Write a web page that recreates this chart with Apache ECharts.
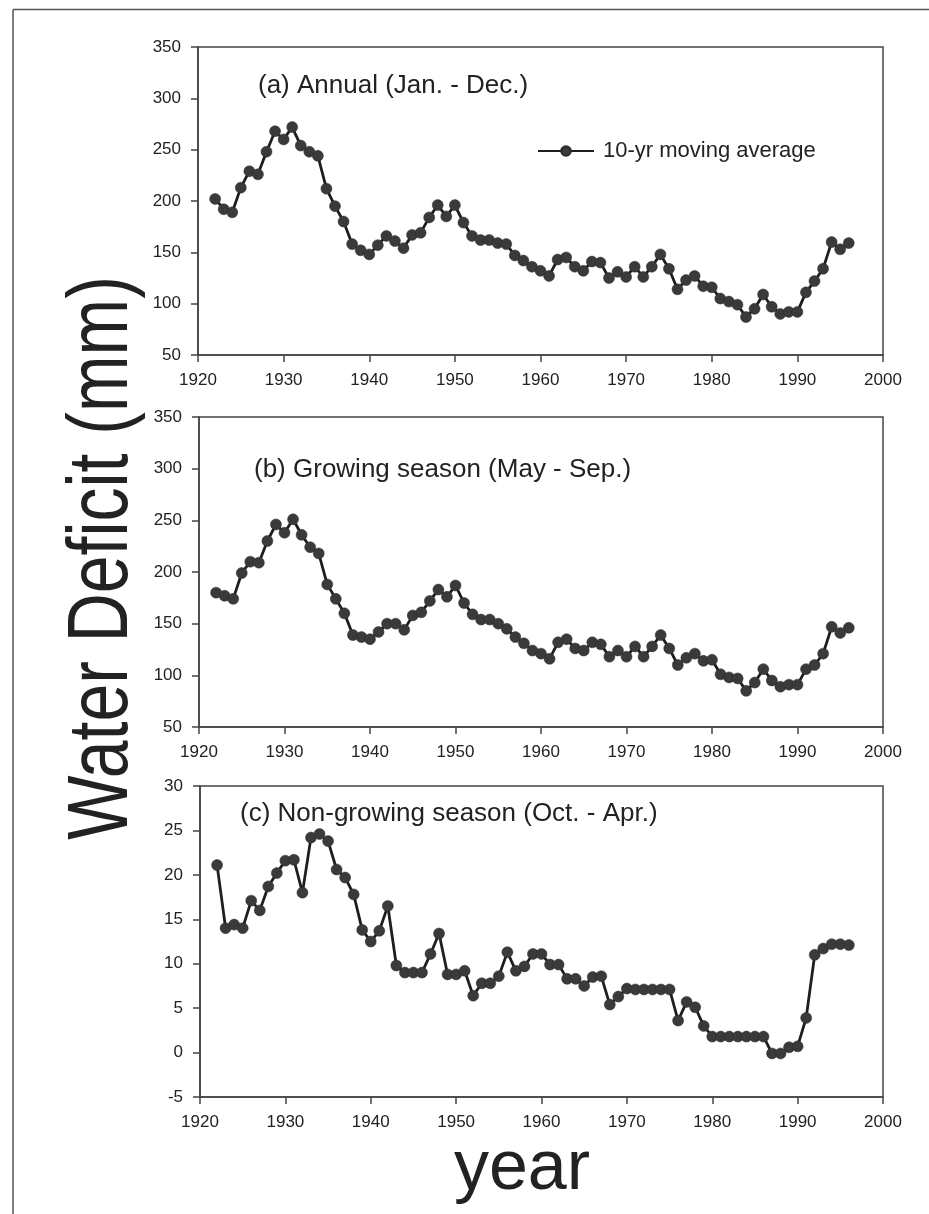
<!DOCTYPE html>
<html><head><meta charset="utf-8">
<script src="https://cdn.jsdelivr.net/npm/echarts@6/dist/echarts.min.js"></script>
<style>html,body{margin:0;padding:0;background:#fff;}#c{width:929px;height:1214px;}</style>
</head><body><div id="c"></div>
<script>
const years = [1922,1923,1924,1925,1926,1927,1928,1929,1930,1931,1932,1933,1934,1935,1936,1937,1938,1939,1940,1941,1942,1943,1944,1945,1946,1947,1948,1949,1950,1951,1952,1953,1954,1955,1956,1957,1958,1959,1960,1961,1962,1963,1964,1965,1966,1967,1968,1969,1970,1971,1972,1973,1974,1975,1976,1977,1978,1979,1980,1981,1982,1983,1984,1985,1986,1987,1988,1989,1990,1991,1992,1993,1994,1995,1996];
const annual = [202,192,189,213,229,226,248,268,260,272,254,248,244,212,195,180,158,152,148,157,166,161,154,167,169,184,196,185,196,179,166,162,162,159,158,147,142,136,132,127,143,145,136,132,141,140,125,131,126,136,126,136,148,134,114,123,127,117,116,105,102,99,87,95,109,97,90,92,92,111,122,134,160,153,159];
const growing = [180,177,174,199,210,209,230,246,238,251,236,224,218,188,174,160,139,137,135,142,150,150,144,158,161,172,183,176,187,170,159,154,154,150,145,137,131,124,121,116,132,135,126,124,132,130,118,124,118,128,118,128,139,126,110,117,121,114,115,101,98,97,85,93,106,95,89,91,91,106,110,121,147,141,146];
const nongrowing = [21.1,14.0,14.4,14.0,17.1,16.0,18.7,20.2,21.6,21.7,18.0,24.2,24.6,23.8,20.6,19.7,17.8,13.8,12.5,13.7,16.5,9.8,9.0,9.0,9.0,11.1,13.4,8.8,8.8,9.2,6.4,7.8,7.8,8.6,11.3,9.2,9.7,11.1,11.1,9.9,9.9,8.3,8.3,7.5,8.5,8.6,5.4,6.3,7.2,7.1,7.1,7.1,7.1,7.1,3.6,5.7,5.1,3.0,1.8,1.8,1.8,1.8,1.8,1.8,1.8,-0.1,-0.1,0.6,0.7,3.9,11.0,11.7,12.2,12.2,12.1];
const panelTitles = ['(a) Annual (Jan. - Dec.)','(b) Growing season (May - Sep.)','(c) Non-growing season (Oct. - Apr.)'];
const yRanges = [[50,350,50],[50,350,50],[-5,30,5]];
const xRange = [1920,2000,10];
const legendName = '10-yr moving average';
const yTitle = 'Water Deficit (mm)';
const xTitle = 'year';

const FONT = '"Liberation Sans", Arial, sans-serif';
const INK = '#222';
const grids = [
  {left:198, top:47, width:685, height:308},
  {left:199, top:417, width:684, height:310},
  {left:200, top:786, width:683, height:311}
];
const titlePos = [[258,73],[254,457],[240,801]];
const seriesData = [annual, growing, nongrowing];
const seriesNames = [legendName, 'growing', 'nongrowing'];

const chart = echarts.init(document.getElementById('c'), null, {renderer:'canvas'});
const option = {
  backgroundColor:'#fff',
  animation:false,
  title: panelTitles.map((t,i)=>({text:t, left:titlePos[i][0], top:titlePos[i][1], padding:0,
    textStyle:{fontFamily:FONT, fontSize:26, fontWeight:'normal', color:INK}})),
  legend:{data:[legendName], left:537, top:140, itemWidth:56, itemHeight:12, padding:0, itemGap:12,
    textStyle:{fontFamily:FONT, fontSize:22, color:INK, padding:[0,0,0,4]}},
  grid: grids.map(g=>Object.assign({show:true, borderColor:'#444', borderWidth:1.5, backgroundColor:'transparent'}, g)),
  xAxis: grids.map((g,i)=>({type:'value', gridIndex:i, min:xRange[0], max:xRange[1], interval:xRange[2],
    axisLine:{show:true, onZero:false, lineStyle:{color:'#444', width:1.5}},
    axisTick:{show:true, inside:false, length:7, lineStyle:{color:'#444', width:1.5}},
    splitLine:{show:false},
    axisLabel:{fontFamily:FONT, fontSize:17, color:INK, margin:17, formatter:v=>String(v)}})),
  yAxis: grids.map((g,i)=>({type:'value', gridIndex:i, min:yRanges[i][0], max:yRanges[i][1], interval:yRanges[i][2],
    axisLine:{show:true, onZero:false, lineStyle:{color:'#444', width:1.5}},
    axisTick:{show:true, inside:false, length:7, lineStyle:{color:'#444', width:1.5}},
    splitLine:{show:false},
    axisLabel:{fontFamily:FONT, fontSize:17, color:INK, margin:17}})),
  series: seriesData.map((d,i)=>({type:'line', name:seriesNames[i], xAxisIndex:i, yAxisIndex:i,
    data: years.map((y,k)=>[y,d[k]]),
    symbol:'circle', symbolSize:11, showAllSymbol:true,
    lineStyle:{color:'#1e1e1e', width:2.8},
    itemStyle:{color:'#3a3a3a', borderColor:'#2a2a2a', borderWidth:0.5}})),
  graphic:[
    {type:'line', shape:{x1:13, y1:9.5, x2:929, y2:9.5}, style:{stroke:'#555', lineWidth:1.5}},
    {type:'line', shape:{x1:13, y1:9.5, x2:13, y2:1214}, style:{stroke:'#555', lineWidth:1.5}},
    {type:'text', x:103, y:558, rotation:Math.PI/2, scaleX:0.79, scaleY:1,
      style:{text:yTitle, fontFamily:FONT, fontSize:86, fill:INK, textAlign:'center', textVerticalAlign:'middle'}},
    {type:'text', x:522, y:1170,
      style:{text:xTitle, fontFamily:FONT, fontSize:70, fill:INK, textAlign:'center', textVerticalAlign:'middle'}}
  ]
};
chart.setOption(option);
</script></body></html>
